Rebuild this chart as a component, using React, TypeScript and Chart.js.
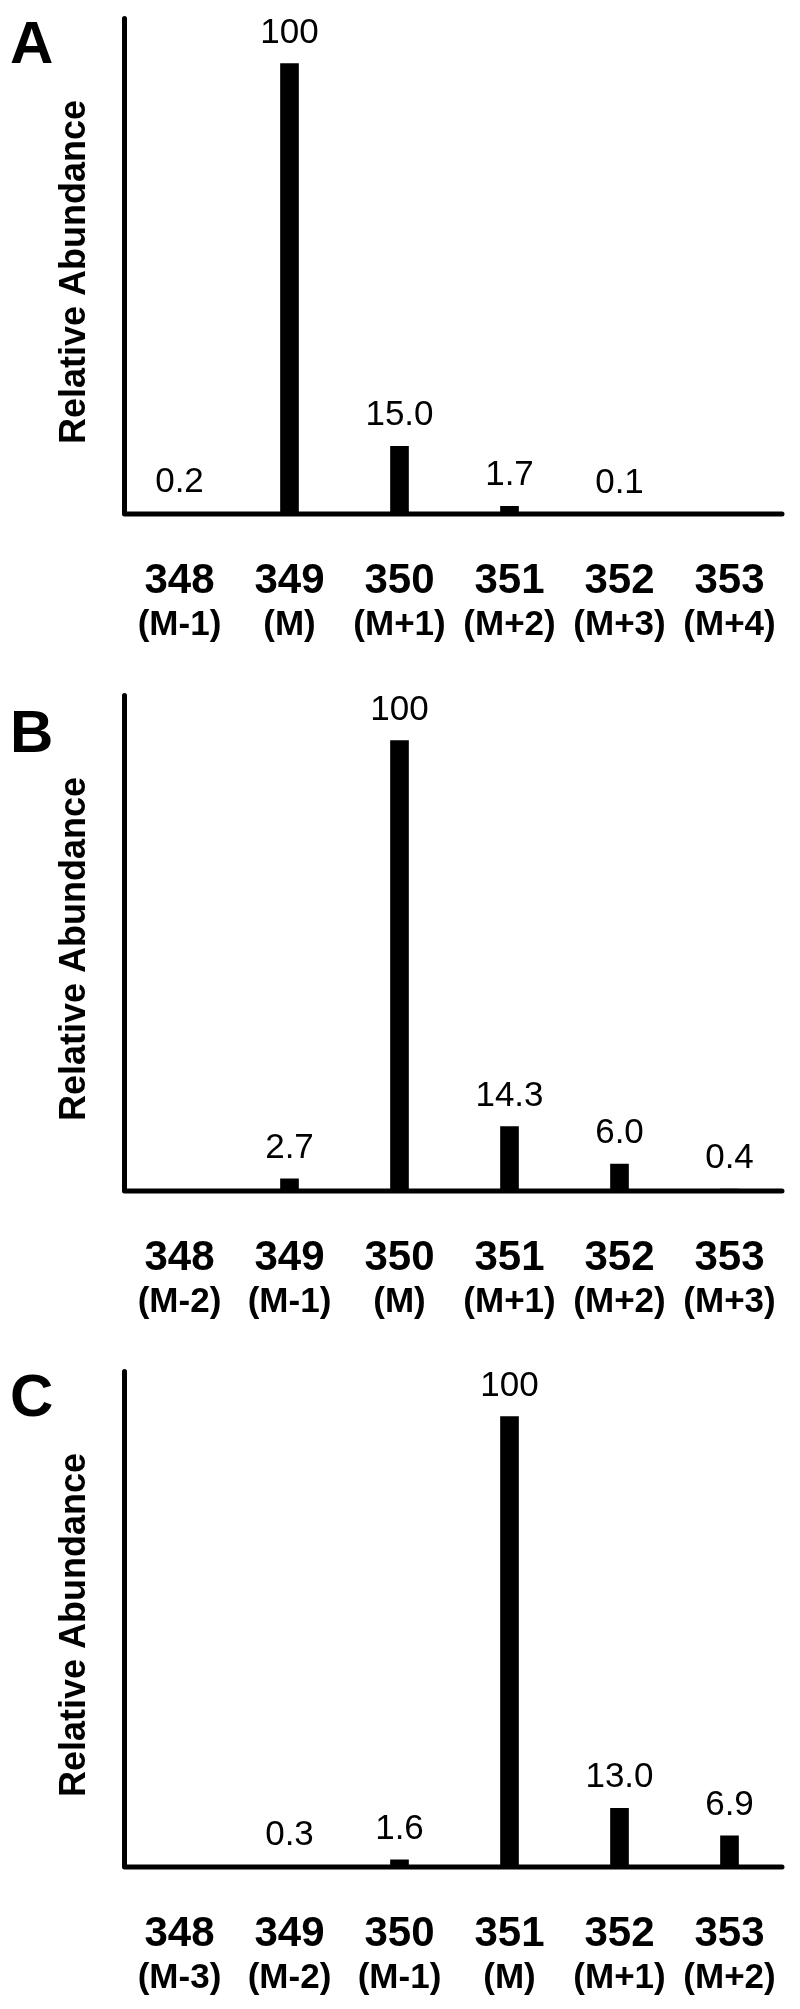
import React, { useEffect, useRef } from 'react';
import { Chart, registerables } from 'chart.js';

Chart.register(...registerables);

// ---- data ----
const massLabels = ['348', '349', '350', '351', '352', '353'];

const isotopeLabelsA = ['(M-1)', '(M)', '(M+1)', '(M+2)', '(M+3)', '(M+4)'];
const isotopeLabelsB = ['(M-2)', '(M-1)', '(M)', '(M+1)', '(M+2)', '(M+3)'];
const isotopeLabelsC = ['(M-3)', '(M-2)', '(M-1)', '(M)', '(M+1)', '(M+2)'];

const abundanceA: (number | null)[] = [0.2, 100, 15.0, 1.7, 0.1, null];
const abundanceB: (number | null)[] = [null, 2.7, 100, 14.3, 6.0, 0.4];
const abundanceC: (number | null)[] = [null, 0.3, 1.6, 100, 13.0, 6.9];

const yAxisTitle = 'Relative Abundance';
const yMax = 110;

const FONT = '"Liberation Sans", Arial, Helvetica, sans-serif';

function formatValue(v: number): string {
  return v >= 100 ? String(Math.round(v)) : v.toFixed(1);
}

type PanelProps = {
  letter: string;
  letterBaseline: number;
  values: (number | null)[];
  isotopes: string[];
  height: number;
};

function Panel({ letter, letterBaseline, values, isotopes, height }: PanelProps) {
  const ref = useRef<HTMLCanvasElement>(null);

  useEffect(() => {
    const canvas = ref.current;
    if (!canvas) return;
    const axisY = 514;

    const overlay = {
      id: 'overlay',
      afterDatasetsDraw(chart: any) {
        const ctx = chart.ctx as CanvasRenderingContext2D;
        const { left, right, top, bottom } = chart.chartArea;
        const xs = chart.scales.x;
        const meta = chart.getDatasetMeta(0);
        ctx.save();
        // axes
        ctx.strokeStyle = '#000';
        ctx.lineWidth = 5;
        ctx.lineCap = 'round';
        ctx.lineJoin = 'round';
        ctx.beginPath();
        ctx.moveTo(left, top);
        ctx.lineTo(left, bottom);
        ctx.lineTo(right - 2.5, bottom);
        ctx.stroke();

        ctx.fillStyle = '#000';
        // value labels
        ctx.font = `35px ${FONT}`;
        ctx.textAlign = 'center';
        ctx.textBaseline = 'alphabetic';
        values.forEach((v, i) => {
          if (v === null || v === undefined) return;
          const bar = meta.data[i];
          ctx.fillText(formatValue(v), bar.x, bar.y - 21);
        });

        // category labels
        massLabels.forEach((lab, i) => {
          const x = xs.getPixelForValue(i);
          ctx.font = `bold 42px ${FONT}`;
          ctx.fillText(lab, x, bottom + 79);
          ctx.font = `bold 35px ${FONT}`;
          ctx.fillText(isotopes[i], x, bottom + 121);
        });

        // panel letter
        ctx.textAlign = 'left';
        ctx.font = `bold 60px ${FONT}`;
        ctx.fillText(letter, 10, letterBaseline);

        // y title
        ctx.translate(85, 272);
        ctx.rotate(-Math.PI / 2);
        ctx.textAlign = 'center';
        ctx.font = `bold 36px ${FONT}`;
        ctx.fillText(yAxisTitle, 0, 0);
        ctx.restore();
      },
    };

    const chart = new Chart(canvas, {
      type: 'bar',
      data: {
        labels: massLabels,
        datasets: [
          {
            data: values as any,
            backgroundColor: '#000',
            borderWidth: 0,
            barThickness: 18,
          },
        ],
      },
      options: {
        responsive: false,
        maintainAspectRatio: false,
        animation: false,
        devicePixelRatio: 1,
        layout: {
          padding: { left: 124.5, right: 15.5, top: 18.5, bottom: height - axisY },
        },
        plugins: {
          legend: { display: false },
          tooltip: { enabled: false },
          title: { display: false },
        },
        scales: {
          x: { display: false, grid: { display: false } },
          y: { display: false, min: 0, max: yMax, grid: { display: false } },
        },
      },
      plugins: [overlay],
    });
    return () => chart.destroy();
  }, [letter, letterBaseline, values, isotopes, height]);

  return <canvas ref={ref} width={800} height={height} style={{ display: 'block', width: 800, height }} />;
}

export default function App() {
  return (
    <div style={{ position: 'absolute', left: 0, top: 0, width: 800, background: '#fff' }}>
      <Panel letter="A" letterBaseline={63} values={abundanceA} isotopes={isotopeLabelsA} height={677} />
      <Panel letter="B" letterBaseline={75} values={abundanceB} isotopes={isotopeLabelsB} height={676} />
      <Panel letter="C" letterBaseline={63} values={abundanceC} isotopes={isotopeLabelsC} height={656} />
    </div>
  );
}
